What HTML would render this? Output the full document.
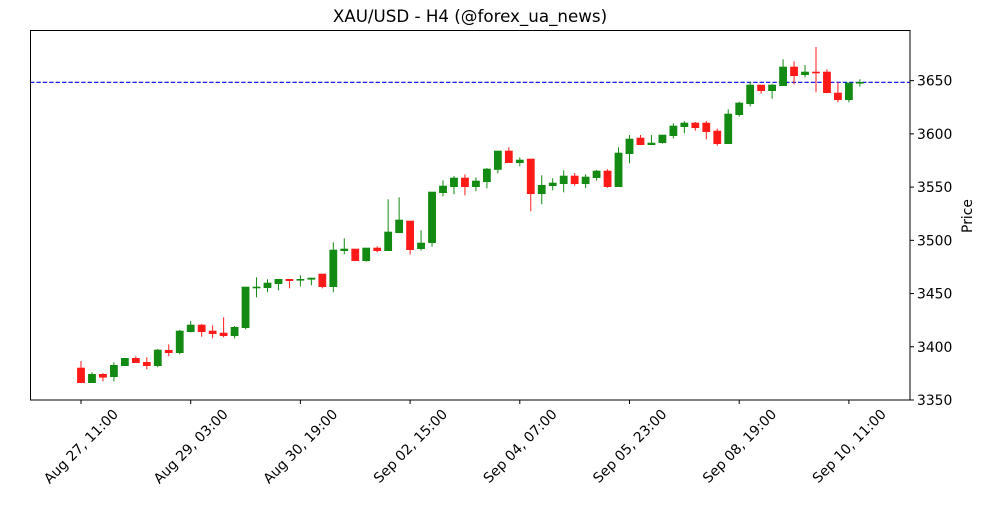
<!DOCTYPE html>
<html><head><meta charset="utf-8"><style>
body{margin:0;background:#fff;}
svg text{font-family:"DejaVu Sans","Liberation Sans",sans-serif;fill:#000;}
</style></head><body>
<svg id="s" width="1000" height="500" xmlns="http://www.w3.org/2000/svg">
<rect width="1000" height="500" fill="#fff"/>
<text x="470" y="22" font-size="16.7" text-anchor="middle">XAU/USD - H4 (@forex_ua_news)</text>
<line x1="30" y1="82.3" x2="910" y2="82.3" stroke="#0000ff" stroke-width="1.2" stroke-dasharray="4.4,2"/>
<g id="c"></g>
<rect x="30.5" y="30.5" width="879.5" height="369.5" fill="none" stroke="#000" stroke-width="1"/>
<g font-size="13.9" id="yt"></g>
<text transform="translate(972,216) rotate(-90)" font-size="13.9" text-anchor="middle">Price</text>
<g font-size="13.9" id="xt"></g>
</svg>
<script>
var d=[
[368,382.7,361,383,'r'],[374.3,382.7,372.3,382.7,'g'],[374.3,377.3,373.3,381.3,'r'],[365.3,376.7,362.3,381.3,'g'],
[358.3,365.7,358.3,365.7,'g'],[358.3,362.7,356.3,362.7,'r'],[362.3,365.7,357.3,369.3,'r'],[350,365.7,349,367.3,'g'],
[350.3,352.7,344.3,356.3,'r'],[331,352.7,330,354.3,'g'],[325,331.7,321,332.3,'g'],[325,331.7,324,336.7,'r'],
[331,333.7,325.3,338.3,'r'],[333,335.7,317.3,337.3,'r'],[327.3,335.7,326,338.3,'g'],[287,327.7,287,329.3,'g'],
[287,287.7,277.3,297.3,'g'],[283,287.7,279.3,292.3,'g'],[279.3,283.7,279.3,290.3,'g'],[279.3,280.7,279.3,288.3,'r'],
[279.3,280.3,275.3,286.3,'g'],[278,279.3,278,285.3,'g'],[274,286.7,274,288.3,'r'],[250,286.7,242.3,292.3,'g'],
[249,250.7,238.3,254.3,'g'],[249,260.7,249,260.7,'r'],[248,260.7,248,261.7,'g'],[248,250.7,246.3,252.3,'r'],
[232,250.7,199.3,250.7,'g'],[220,232.7,197.3,232.7,'g'],[221,249.7,221,254.7,'r'],[243,248.7,230.3,250.7,'g'],
[192,242.7,192,246.7,'g'],[186,192.7,180.3,196.3,'g'],[178,186.7,176,194.3,'g'],[178,186.7,174.3,195.3,'r'],
[181,186.7,177.3,191.3,'g'],[169,181.7,168,188.3,'g'],[151,169.5,151,173.3,'g'],[151,162.7,147.3,162.7,'r'],
[160,162.7,157.3,166.3,'g'],[159,193.7,159,211.3,'r'],[185.3,193.7,175.3,204.3,'g'],[183,185.7,178.3,190.3,'g'],
[176,183.7,170.3,192.3,'g'],[176,183.7,173,185.7,'r'],[177,183.7,174.3,188.3,'g'],[171,177.7,170,180.7,'g'],
[171,186.7,169.3,187.7,'r'],[153,186.7,147.3,186.7,'g'],[139,153.7,135,163.3,'g'],[138,144.7,135,144.7,'r'],
[143,144.7,135,144.7,'g'],[135,142.7,135,143.7,'g'],[126,135.7,123.3,138.3,'g'],[123,126.7,121,133.3,'g'],
[123,127.7,122,130.7,'r'],[123,131.7,121,139.3,'r'],[131,143.7,128.7,145.7,'r'],[114,143.7,109.3,143.7,'g'],
[103,114.7,101.7,116.7,'g'],[85,103.7,81.7,106.3,'g'],[85,90.7,85,93.7,'r'],[85,90.7,83.7,98.7,'g'],
[67,85.7,59.3,85.7,'g'],[67,75.7,61.3,84.3,'r'],[72,74.7,65,77.3,'g'],[72,72.7,47,92.3,'r'],
[72,92.7,69.3,92.7,'r'],[93,99.7,82.3,102.3,'r'],[83,99.7,83,102.3,'g'],[82.3,83.3,79.3,86.7,'g']];
var h='';
d.forEach(function(c,i){var x=81+i*10.97;var col=c[4]=='g'?'#138a13':'#ff1a1a';
h+='<line x1="'+x+'" y1="'+c[2]+'" x2="'+x+'" y2="'+c[3]+'" stroke="'+col+'" stroke-width="1"/>';
var hh=Math.max(c[1]-c[0],1);
h+='<rect x="'+(x-3.6)+'" y="'+c[0]+'" width="7.2" height="'+hh+'" fill="'+col+'" stroke="'+col+'" stroke-width="0.6"/>';});
document.getElementById('c').innerHTML=h;
var yt='';[3350,3400,3450,3500,3550,3600,3650].forEach(function(v){var y=400-(v-3350)*1.0645;
yt+='<line x1="910" y1="'+y+'" x2="914" y2="'+y+'" stroke="#000"/><text x="917" y="'+(y+5)+'">'+v+'</text>';});
document.getElementById('yt').innerHTML=yt;
var lb=['Aug 27, 11:00','Aug 29, 03:00','Aug 30, 19:00','Sep 02, 15:00','Sep 04, 07:00','Sep 05, 23:00','Sep 08, 19:00','Sep 10, 11:00'];
var xt='';lb.forEach(function(t,i){var x=81+i*109.7;
xt+='<line x1="'+x+'" y1="400" x2="'+x+'" y2="404" stroke="#000"/><text text-anchor="end" transform="translate('+(x+38)+',415) rotate(-45)">'+t+'</text>';});
document.getElementById('xt').innerHTML=xt;
</script>
</body></html>
